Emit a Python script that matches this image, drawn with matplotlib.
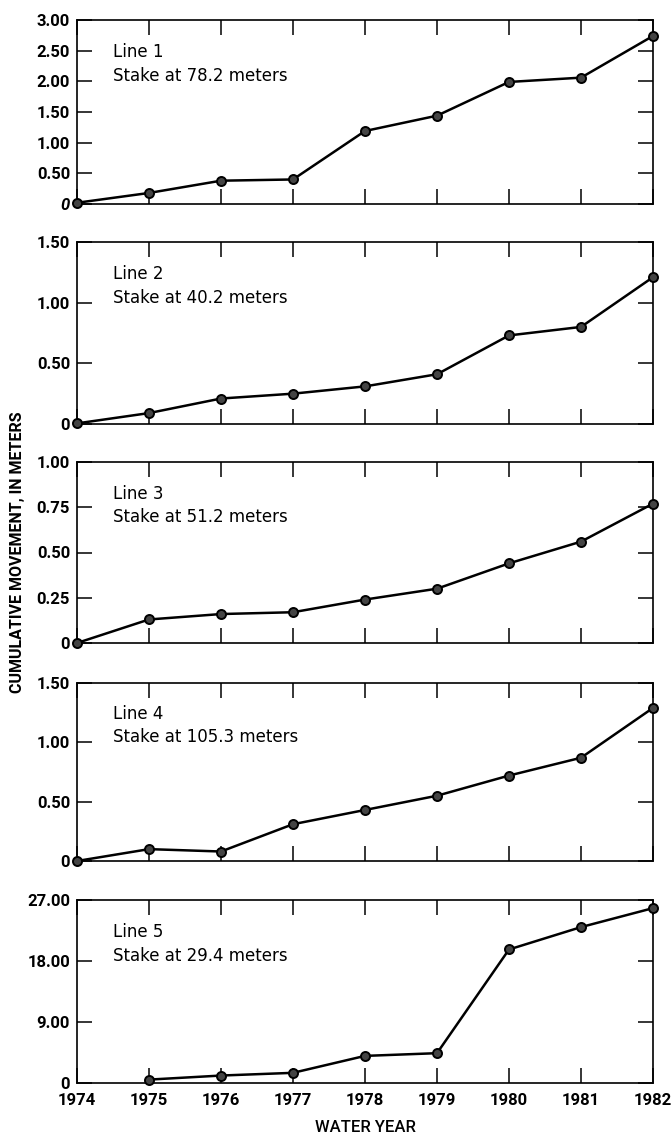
import matplotlib
matplotlib.use("Agg")
import matplotlib.pyplot as plt

# water years on the x axis
years = [1974, 1975, 1976, 1977, 1978, 1979, 1980, 1981, 1982]

# cumulative movement, meters
line1 = [0.02, 0.18, 0.38, 0.40, 1.19, 1.44, 1.99, 2.06, 2.74]
line2 = [0.005, 0.09, 0.21, 0.25, 0.31, 0.41, 0.73, 0.80, 1.21]
line3 = [0.0, 0.13, 0.16, 0.17, 0.24, 0.30, 0.44, 0.56, 0.77]
line4 = [0.0, 0.10, 0.08, 0.31, 0.43, 0.55, 0.72, 0.87, 1.29]
line5_years = [1975, 1976, 1977, 1978, 1979, 1980, 1981, 1982]
line5 = [0.5, 1.1, 1.5, 4.0, 4.4, 19.7, 23.0, 25.8]

titles = ["Line 1", "Line 2", "Line 3", "Line 4", "Line 5"]
stakes = ["Stake at 78.2 meters", "Stake at 40.2 meters", "Stake at 51.2 meters",
          "Stake at 105.3 meters", "Stake at 29.4 meters"]

yticks = [
    [0, 0.5, 1.0, 1.5, 2.0, 2.5, 3.0],
    [0, 0.5, 1.0, 1.5],
    [0, 0.25, 0.5, 0.75, 1.0],
    [0, 0.5, 1.0, 1.5],
    [0, 9, 18, 27],
]
ytick_labels = [
    ["0", "0.50", "1.00", "1.50", "2.00", "2.50", "3.00"],
    ["0", "0.50", "1.00", "1.50"],
    ["0", "0.25", "0.50", "0.75", "1.00"],
    ["0", "0.50", "1.00", "1.50"],
    ["0", "9.00", "18.00", "27.00"],
]

series = [
    (years, line1),
    (years, line2),
    (years, line3),
    (years, line4),
    (line5_years, line5),
]

NARROW = ["Roboto", "DejaVu Sans"]
TEXT = ["DejaVu Sans"]

W, H = 671, 1137
fig = plt.figure(figsize=(W / 100, H / 100), dpi=100)

# panel (top, bottom) in pixels
panels_px = [(20, 204), (242, 424), (462, 643), (683, 861), (900, 1083)]
left_px, right_px = 77, 653

axes = []
for i, (top, bot) in enumerate(panels_px):
    ax = fig.add_axes([left_px / W, 1 - bot / H, (right_px - left_px) / W, (bot - top) / H])
    xs, ys = series[i]
    ax.plot(xs, ys, color="black", lw=1.8, marker="o", ms=6.5,
            mfc="#444444", mec="black", mew=1.4, clip_on=False, zorder=3)
    ax.set_xlim(1974, 1982)
    ax.set_ylim(yticks[i][0], yticks[i][-1])
    ax.set_yticks(yticks[i])
    ax.set_yticklabels(ytick_labels[i], family=NARROW, fontsize=12, fontweight="bold")
    ax.set_xticks(years)
    ax.tick_params(direction="in", length=11, width=1.1, top=True, right=True,
                   color="black", pad=5)
    ax.tick_params(axis="x", pad=7)
    for s in ax.spines.values():
        s.set_linewidth(1.2)
    if i < len(panels_px) - 1:
        ax.set_xticklabels([])
    else:
        ax.set_xticklabels([str(y) for y in years], family=NARROW, fontsize=12,
                           fontweight="bold")
        ax.set_xlabel("WATER YEAR", family=NARROW, fontsize=12, fontweight="medium",
                      labelpad=9)
    ax.text(0.0625, 0.825, titles[i], transform=ax.transAxes, family=TEXT,
            fontsize=12, va="center", ha="left")
    ax.text(0.0625, 0.694, stakes[i], transform=ax.transAxes, family=TEXT,
            fontsize=12, va="center", ha="left")
    axes.append(ax)

# italic zero on the first panel
axes[0].get_yticklabels()[0].set_style("italic")

fig.text(18 / W, 1 - 552 / H, "CUMULATIVE MOVEMENT, IN METERS", rotation=90,
         family=NARROW, fontsize=11.5, fontweight="bold", va="center", ha="center")

fig.savefig("out.png", dpi=100)
